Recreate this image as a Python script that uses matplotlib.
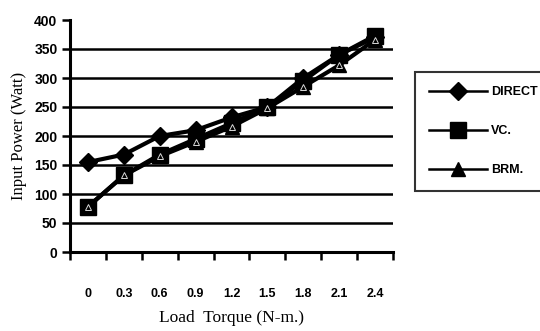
import numpy as np
import matplotlib
matplotlib.use("Agg")
import matplotlib.pyplot as plt
from matplotlib.lines import Line2D

# Load torque categories (N-m.)
torque_labels = ["0", "0.3", "0.6", "0.9", "1.2", "1.5", "1.8", "2.1", "2.4"]

# Input power (Watt) for each drive type
direct_power = [155, 168, 200, 210, 232, 250, 300, 340, 370]
vc_power = [78, 132, 168, 195, 222, 250, 295, 340, 373]
brm_power = [78, 132, 165, 190, 216, 248, 285, 322, 366]

y_ticks = [0, 50, 100, 150, 200, 250, 300, 350, 400]

W, H = 540, 331
fig = plt.figure(figsize=(W / 100, H / 100), dpi=100)
fig.patch.set_facecolor("white")

ax = fig.add_axes([70 / W, 1 - 252 / H, 323 / W, 232 / H])
x = np.arange(len(torque_labels))

# horizontal grid lines
for yv in y_ticks[1:-1]:
    ax.axhline(yv, color="black", lw=1.8, zorder=1)

ax.plot(x, direct_power, color="black", lw=3, marker="D", ms=9,
        mfc="black", mec="black", zorder=3, label="DIRECT")
ax.plot(x, vc_power, color="black", lw=3, marker="s", ms=11,
        mfc="black", mec="black", zorder=4, label="VC.")
ax.plot(x, brm_power, color="black", lw=3, marker="^", ms=10,
        mfc="black", mec="black", zorder=5, label="BRM.")
# light inner outline on the triangles
ax.plot(x, brm_power, ls="none", marker="^", ms=4, mfc="none",
        mec="#d8d8d8", mew=0.7, zorder=6)

ax.set_xlim(-0.5, len(x) - 0.5)
ax.set_ylim(0, 400)

for s in ["top", "right"]:
    ax.spines[s].set_visible(False)
for s in ["left", "bottom"]:
    ax.spines[s].set_linewidth(2.2)
    ax.spines[s].set_color("black")

ax.set_yticks(y_ticks)
ax.set_yticklabels([str(v) for v in y_ticks], fontfamily="Liberation Sans",
                   fontweight="bold", fontsize=10)
ax.tick_params(axis="y", length=6, width=1.8, direction="out", pad=3)

ax.set_xticks(x)
ax.set_xticklabels(torque_labels, fontfamily="Liberation Sans",
                   fontweight="bold", fontsize=9)
ax.set_xticks(np.arange(len(x) + 1) - 0.5, minor=True)
ax.tick_params(axis="x", which="major", length=0, pad=26)
ax.tick_params(axis="x", which="minor", length=6, width=1.8, direction="out")

ax.set_ylabel("Input Power (Watt)", fontfamily="Liberation Serif",
              fontsize=12, labelpad=5)
ax.set_xlabel("Load  Torque (N-m.)", fontfamily="Liberation Serif",
              fontsize=12.5, labelpad=7)

handles = [
    Line2D([], [], color="black", lw=1.8, marker="D", ms=9, mfc="black"),
    Line2D([], [], color="black", lw=1.8, marker="s", ms=11, mfc="black"),
    Line2D([], [], color="black", lw=1.8, marker="^", ms=10, mfc="black"),
]
leg = fig.legend(handles, ["DIRECT", "VC.", "BRM."], loc="upper left",
                 bbox_to_anchor=(415 / W, 1 - 72 / H),
                 prop={"family": "Liberation Sans", "weight": "bold", "size": 9},
                 frameon=True, fancybox=False, edgecolor="black",
                 handlelength=4.6, handletextpad=0.3, labelspacing=2.15,
                 borderpad=1.15, borderaxespad=0)
leg.get_frame().set_linewidth(1.5)

fig.savefig("out.png", dpi=100)
